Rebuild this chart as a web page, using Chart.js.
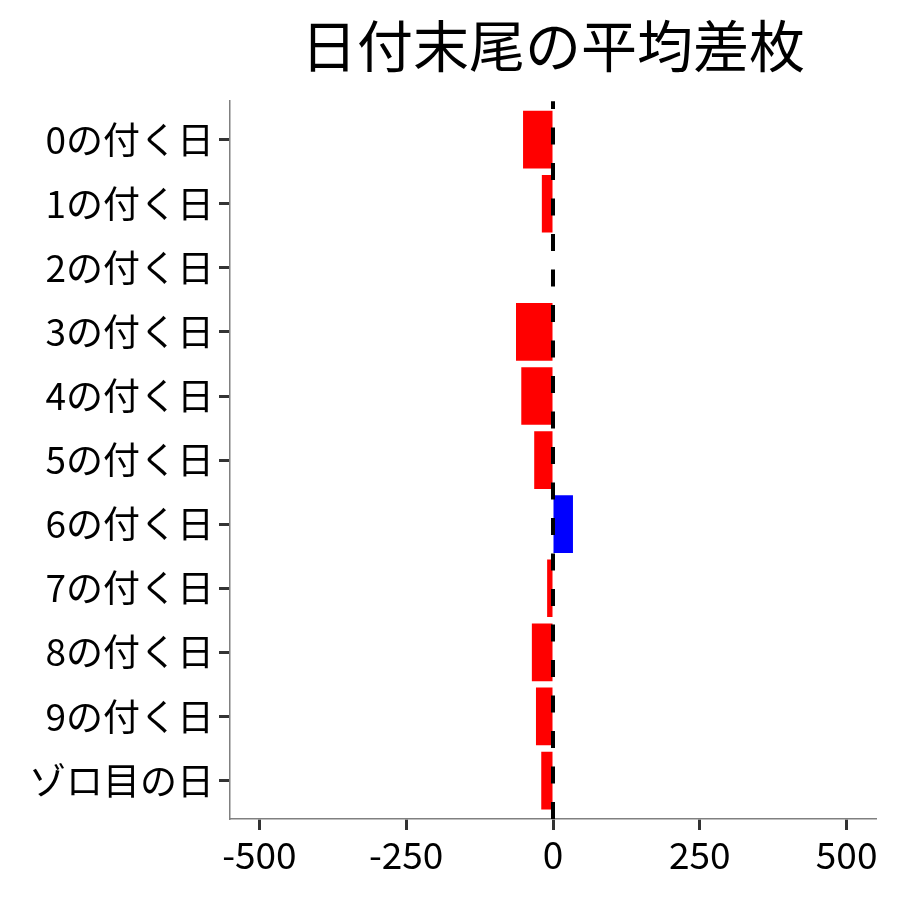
<!DOCTYPE html>
<html>
<head>
<meta charset="utf-8">
<script src="https://cdn.jsdelivr.net/npm/chart.js@4"></script>
<style>
  body { margin: 0; background: #fff; }
</style>
</head>
<body>
<canvas id="myChart" width="900" height="900"></canvas>
<script>
// Categories and average values
const dayLabels = [
    '0の付く日', '1の付く日', '2の付く日', '3の付く日', '4の付く日', '5の付く日',
    '6の付く日', '7の付く日', '8の付く日', '9の付く日', 'ゾロ目の日'
];
const avgDiff = [-51, -19, 0, -63, -54, -32, 34, -10, -36, -29, -20];
const xTicks = [-500, -250, 0, 250, 500];

const fontFamily = '"Noto Sans CJK JP", "Noto Sans", sans-serif';

// Dashed vertical line at zero, drawn over the bars
const zeroLine = {
    id: 'zeroLine',
    afterDatasetsDraw(chart) {
        const ctx = chart.ctx;
        const area = chart.chartArea;
        const x = chart.scales.x.getPixelForValue(0);
        ctx.save();
        ctx.strokeStyle = '#000000';
        ctx.lineWidth = 4;
        ctx.setLineDash([17, 18.5]);
        ctx.beginPath();
        ctx.moveTo(x, area.bottom);
        ctx.lineTo(x, area.top);
        ctx.stroke();
        ctx.restore();
    }
};

const ctx = document.getElementById('myChart').getContext('2d');
const myChart = new Chart(ctx, {
    type: 'bar',
    data: {
        datasets: [{
            label: '平均差枚',
            data: avgDiff.map((v, i) => ({ x: v, y: i })),
            backgroundColor: avgDiff.map(v => v > 0 ? '#0000FF' : '#FF0000'),
            borderWidth: 0,
            barPercentage: 0.9,
            categoryPercentage: 1.0
        }]
    },
    options: {
        indexAxis: 'y',
        responsive: false,
        animation: false,
        devicePixelRatio: 1,
        layout: {
            padding: { left: 0, right: 24, top: 0, bottom: 0 }
        },
        scales: {
            x: {
                type: 'linear',
                min: -550,
                max: 550,
                afterBuildTicks: scale => {
                    scale.ticks = xTicks.map(v => ({ value: v }));
                },
                afterFit: scale => {
                    scale.height = 81;
                },
                grid: {
                    drawOnChartArea: false,
                    tickLength: 11,
                    tickColor: '#333333',
                    tickWidth: 3
                },
                border: { color: '#808080', width: 1.5 },
                ticks: {
                    color: '#000000',
                    padding: 3,
                    maxRotation: 0,
                    font: { family: fontFamily, size: 37 }
                }
            },
            y: {
                type: 'linear',
                min: -0.6,
                max: 10.6,
                reverse: true,
                offset: false,
                afterBuildTicks: scale => {
                    scale.ticks = dayLabels.map((_, i) => ({ value: i }));
                },
                afterFit: scale => {
                    scale.width = 230;
                },
                grid: {
                    offset: false,
                    drawOnChartArea: false,
                    tickLength: 11,
                    tickColor: '#333333',
                    tickWidth: 3
                },
                border: { color: '#808080', width: 1.5 },
                ticks: {
                    color: '#000000',
                    padding: 5,
                    autoSkip: false,
                    font: { family: fontFamily, size: 37 },
                    callback: value => dayLabels[value]
                }
            }
        },
        plugins: {
            legend: { display: false },
            tooltip: { enabled: false },
            title: {
                display: true,
                fullSize: false,
                text: '日付末尾の平均差枚',
                color: '#000000',
                font: { family: fontFamily, size: 56, weight: 'normal', lineHeight: 1.2 },
                padding: { top: 12, bottom: 22 }
            }
        }
    },
    plugins: [zeroLine]
});
</script>
</body>
</html>
